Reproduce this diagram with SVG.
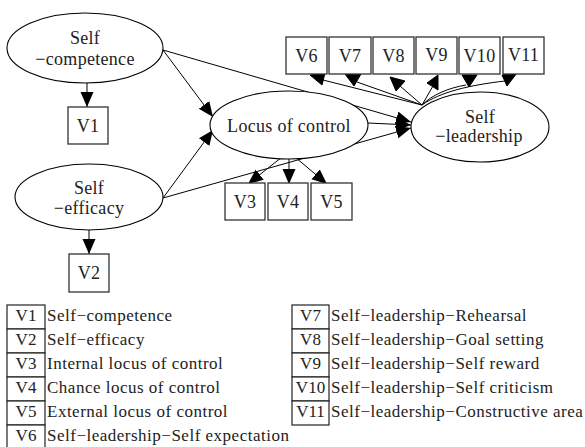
<svg xmlns="http://www.w3.org/2000/svg" width="585" height="447" viewBox="0 0 585 447">
<style>
  .bg{fill:#ffffff}
  .ell{fill:#ffffff;stroke:#000;stroke-width:1.1}
  .box{fill:#ffffff;stroke:#333;stroke-width:1.3}
  .lbox{fill:#ffffff;stroke:#222;stroke-width:1.2}
  .t{font-family:'Liberation Serif','DejaVu Serif','Times New Roman',serif;font-size:18px;fill:#222;text-anchor:middle;letter-spacing:0.3px}
  .lt{font-family:'Liberation Serif','DejaVu Serif','Times New Roman',serif;font-size:17px;fill:#222;letter-spacing:0.5px}
  .lv{font-family:'Liberation Serif','DejaVu Serif','Times New Roman',serif;font-size:17px;fill:#222;text-anchor:middle}
  .e{fill:none;stroke:#000;stroke-width:1}
  .ah{fill:#000;stroke:#000;stroke-width:1}
</style>
<defs>
  <marker id="arr" markerUnits="userSpaceOnUse" markerWidth="16" markerHeight="14" refX="15" refY="6.5" orient="auto">
    <path d="M0,0 L15,6.5 L0,13 z" fill="#000"/>
  </marker>
</defs>
<rect class="bg" x="0" y="0" width="585" height="447"/>

<g id="connectors">
  <line class="e" x1="87" y1="83" x2="87" y2="107" marker-end="url(#arr)"/>
  <line class="e" x1="89" y1="230" x2="89" y2="254" marker-end="url(#arr)"/>
  <line class="e" x1="163" y1="50" x2="213" y2="117" marker-end="url(#arr)"/>
  <line class="e" x1="163" y1="198" x2="213" y2="130" marker-end="url(#arr)"/>
  <line class="e" x1="163" y1="50" x2="411" y2="122" marker-end="url(#arr)"/>
  <line class="e" x1="368" y1="123" x2="411" y2="125" marker-end="url(#arr)"/>
  <line class="e" x1="163" y1="198" x2="411" y2="128" marker-end="url(#arr)"/>
  <line class="e" x1="282" y1="157" x2="248" y2="184" marker-end="url(#arr)"/>
  <line class="e" x1="289" y1="158" x2="289" y2="184" marker-end="url(#arr)"/>
  <line class="e" x1="295" y1="157" x2="327" y2="184" marker-end="url(#arr)"/>
  <line class="e" x1="422" y1="105" x2="323" y2="80"/>
  <line class="e" x1="422" y1="105" x2="357" y2="82"/>
  <line class="e" x1="422" y1="105" x2="400" y2="86"/>
  <line class="e" x1="422" y1="105" x2="433" y2="86"/>
  <path class="e" d="M422,105 C432,95 448,88 466,85"/>
  <path class="e" d="M422,105 C440,92 470,85 505,81"/>
  <polygon class="ah" points="310,75 325,73 322,85"/>
  <polygon class="ah" points="345,74 361,74 354,86"/>
  <polygon class="ah" points="390,77 405,81 396,91"/>
  <polygon class="ah" points="438,75 427,83 438,90"/>
  <polygon class="ah" points="462,75 477,75 469,87"/>
  <polygon class="ah" points="502,75 517,73 507,86"/>
</g>

<g id="self-competence">
  <ellipse class="ell" cx="85" cy="48" rx="78" ry="35"/>
  <text class="t" x="85" y="44">Self</text>
  <text class="t" x="85" y="65">−competence</text>
</g>
<g id="self-efficacy">
  <ellipse class="ell" cx="89" cy="197" rx="74" ry="33"/>
  <text class="t" x="89" y="194">Self</text>
  <text class="t" x="89" y="214">−efficacy</text>
</g>
<g id="locus">
  <ellipse class="ell" cx="289" cy="125" rx="79" ry="34"/>
  <text class="t" x="289" y="132">Locus of control</text>
</g>
<g id="self-leadership">
  <ellipse class="ell" cx="480" cy="127" rx="69" ry="35"/>
  <text class="t" x="480" y="123">Self</text>
  <text class="t" x="479" y="142">−leadership</text>
</g>

<g id="v1"><rect class="box" x="68" y="107" width="40" height="37"/><text class="t" x="88" y="132">V1</text></g>
<g id="v2"><rect class="box" x="69" y="254" width="40" height="38"/><text class="t" x="89" y="279">V2</text></g>
<g id="v3"><rect class="box" x="225" y="183" width="40" height="37"/><text class="t" x="245" y="208">V3</text></g>
<g id="v4"><rect class="box" x="268" y="183" width="40" height="37"/><text class="t" x="288" y="208">V4</text></g>
<g id="v5"><rect class="box" x="311" y="183" width="41" height="37"/><text class="t" x="331.5" y="208">V5</text></g>
<g id="v6"><rect class="box" x="286" y="37" width="41" height="37"/><text class="t" x="306.5" y="62">V6</text></g>
<g id="v7"><rect class="box" x="329" y="37" width="42" height="37"/><text class="t" x="350" y="62">V7</text></g>
<g id="v8"><rect class="box" x="373" y="37" width="41" height="37"/><text class="t" x="393.5" y="62">V8</text></g>
<g id="v9"><rect class="box" x="416" y="37" width="41" height="37"/><text class="t" x="436.5" y="61">V9</text></g>
<g id="v10"><rect class="box" x="459" y="37" width="41" height="37"/><text class="t" x="479.5" y="62">V10</text></g>
<g id="v11"><rect class="box" x="503" y="37" width="41" height="37"/><text class="t" x="523.5" y="61">V11</text></g>

<g id="legend-left">
  <rect class="lbox" x="7" y="305" width="38" height="24"/>
  <rect class="lbox" x="7" y="329" width="38" height="24"/>
  <rect class="lbox" x="7" y="353" width="38" height="24"/>
  <rect class="lbox" x="7" y="377" width="38" height="24"/>
  <rect class="lbox" x="7" y="401" width="38" height="24"/>
  <rect class="lbox" x="7" y="425" width="38" height="30"/>
  <text class="lv" x="26" y="321">V1</text>
  <text class="lv" x="26" y="345">V2</text>
  <text class="lv" x="26" y="369">V3</text>
  <text class="lv" x="26" y="393">V4</text>
  <text class="lv" x="26" y="417">V5</text>
  <text class="lv" x="26" y="441">V6</text>
  <text class="lt" x="47" y="321">Self−competence</text>
  <text class="lt" x="47" y="345">Self−efficacy</text>
  <text class="lt" x="47" y="369">Internal locus of control</text>
  <text class="lt" x="47" y="393">Chance locus of control</text>
  <text class="lt" x="47" y="417">External locus of control</text>
  <text class="lt" x="47" y="441">Self−leadership−Self expectation</text>
</g>
<g id="legend-right">
  <rect class="lbox" x="292" y="305" width="37" height="24"/>
  <rect class="lbox" x="292" y="329" width="37" height="24"/>
  <rect class="lbox" x="292" y="353" width="37" height="24"/>
  <rect class="lbox" x="292" y="377" width="37" height="24"/>
  <rect class="lbox" x="292" y="401" width="37" height="24"/>
  <text class="lv" x="310.5" y="321">V7</text>
  <text class="lv" x="310.5" y="345">V8</text>
  <text class="lv" x="310.5" y="369">V9</text>
  <text class="lv" x="310.5" y="393">V10</text>
  <text class="lv" x="310.5" y="417">V11</text>
  <text class="lt" x="331" y="321">Self−leadership−Rehearsal</text>
  <text class="lt" x="331" y="345">Self−leadership−Goal setting</text>
  <text class="lt" x="331" y="369">Self−leadership−Self reward</text>
  <text class="lt" x="331" y="393">Self−leadership−Self criticism</text>
  <text class="lt" x="331" y="417">Self−leadership−Constructive area</text>
</g>
</svg>
